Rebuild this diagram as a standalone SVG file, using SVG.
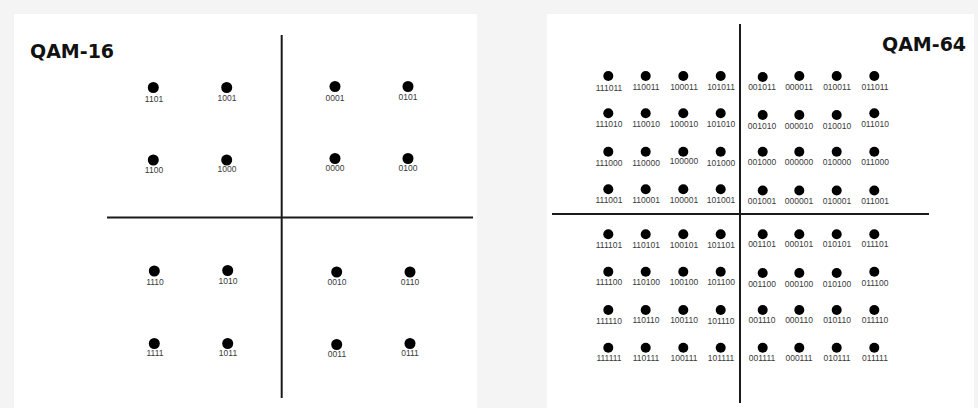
<svg xmlns="http://www.w3.org/2000/svg" width="978" height="408" viewBox="0 0 978 408">
<style>
.bg{fill:#f4f4f4}
.panel{fill:#ffffff}
.axis{stroke:#1a1a1a;stroke-width:2;fill:none}
.dot{fill:#000}
.lbl{font-family:"Liberation Sans",Arial,sans-serif;font-size:8.5px;fill:#3a3a3a;text-anchor:middle}
.title{font-family:"DejaVu Sans",Verdana,sans-serif;font-weight:bold;font-size:19px;fill:#111}
</style>
<rect class="bg" x="0" y="0" width="978" height="408"/>
<rect class="panel" x="14" y="14" width="463" height="394"/>
<rect class="panel" x="547" y="14" width="427" height="394"/>

<g id="qam16">
<text class="title" x="30" y="58">QAM-16</text>
<g id="axes16" class="axis">
<line x1="281.7" y1="35" x2="281.7" y2="398"/>
<line x1="107" y1="217.5" x2="473" y2="217.5"/>
</g>
<g id="n1101"><circle class="dot" cx="153.3" cy="87.5" r="5.5"/><text class="lbl" x="154" y="102">1101</text></g>
<g id="n1001"><circle class="dot" cx="226.7" cy="87.5" r="5.5"/><text class="lbl" x="227" y="101">1001</text></g>
<g id="n0001"><circle class="dot" cx="335" cy="86.5" r="5.5"/><text class="lbl" x="335" y="101">0001</text></g>
<g id="n0101"><circle class="dot" cx="408" cy="86.5" r="5.5"/><text class="lbl" x="408" y="100">0101</text></g>
<g id="n1100"><circle class="dot" cx="153.3" cy="160" r="5.5"/><text class="lbl" x="154" y="173">1100</text></g>
<g id="n1000"><circle class="dot" cx="226.7" cy="160" r="5.5"/><text class="lbl" x="227" y="172">1000</text></g>
<g id="n0000"><circle class="dot" cx="335" cy="158.5" r="5.5"/><text class="lbl" x="335" y="171">0000</text></g>
<g id="n0100"><circle class="dot" cx="408" cy="158.5" r="5.5"/><text class="lbl" x="408" y="171">0100</text></g>
<g id="n1110"><circle class="dot" cx="154.3" cy="271" r="5.5"/><text class="lbl" x="155" y="285">1110</text></g>
<g id="n1010"><circle class="dot" cx="227.7" cy="270.5" r="5.5"/><text class="lbl" x="228" y="284">1010</text></g>
<g id="n0010"><circle class="dot" cx="336.7" cy="272" r="5.5"/><text class="lbl" x="337" y="285">0010</text></g>
<g id="n0110"><circle class="dot" cx="410" cy="272" r="5.5"/><text class="lbl" x="410" y="285">0110</text></g>
<g id="n1111"><circle class="dot" cx="154.3" cy="343.5" r="5.5"/><text class="lbl" x="155" y="356">1111</text></g>
<g id="n1011"><circle class="dot" cx="227.7" cy="343.5" r="5.5"/><text class="lbl" x="228" y="356">1011</text></g>
<g id="n0011"><circle class="dot" cx="336.7" cy="344.5" r="5.5"/><text class="lbl" x="337" y="357">0011</text></g>
<g id="n0111"><circle class="dot" cx="410" cy="343.5" r="5.5"/><text class="lbl" x="410" y="356">0111</text></g>
</g>

<g id="qam64">
<text class="title" x="882" y="51">QAM-64</text>
<g id="axes64" class="axis">
<line x1="740" y1="24" x2="740" y2="403"/>
<line x1="552" y1="214" x2="929" y2="214"/>
</g>
<g id="row1">
<g id="m111011"><circle class="dot" cx="608.3" cy="76" r="5"/><text class="lbl" x="609" y="91">111011</text></g>
<g id="m110011"><circle class="dot" cx="645.7" cy="76" r="5"/><text class="lbl" x="646" y="90">110011</text></g>
<g id="m100011"><circle class="dot" cx="683.3" cy="76" r="5"/><text class="lbl" x="684" y="90">100011</text></g>
<g id="m101011"><circle class="dot" cx="720.7" cy="76" r="5"/><text class="lbl" x="721" y="90">101011</text></g>
<g id="m001011"><circle class="dot" cx="762.7" cy="77" r="5"/><text class="lbl" x="762" y="90">001011</text></g>
<g id="m000011"><circle class="dot" cx="799.3" cy="76" r="5"/><text class="lbl" x="799" y="90">000011</text></g>
<g id="m010011"><circle class="dot" cx="836.7" cy="76" r="5"/><text class="lbl" x="837" y="90">010011</text></g>
<g id="m011011"><circle class="dot" cx="874.3" cy="76" r="5"/><text class="lbl" x="875" y="90">011011</text></g>
</g>
<g id="row2">
<g id="m111010"><circle class="dot" cx="608.3" cy="113.3" r="5"/><text class="lbl" x="609" y="127">111010</text></g>
<g id="m110010"><circle class="dot" cx="645.7" cy="113.3" r="5"/><text class="lbl" x="646" y="127">110010</text></g>
<g id="m100010"><circle class="dot" cx="683.3" cy="113.3" r="5"/><text class="lbl" x="684" y="127">100010</text></g>
<g id="m101010"><circle class="dot" cx="720.7" cy="113.3" r="5"/><text class="lbl" x="721" y="127">101010</text></g>
<g id="m001010"><circle class="dot" cx="762.7" cy="115" r="5"/><text class="lbl" x="762" y="129">001010</text></g>
<g id="m000010"><circle class="dot" cx="799.3" cy="115" r="5"/><text class="lbl" x="799" y="129">000010</text></g>
<g id="m010010"><circle class="dot" cx="836.7" cy="115" r="5"/><text class="lbl" x="837" y="129">010010</text></g>
<g id="m011010"><circle class="dot" cx="874.3" cy="113.3" r="5"/><text class="lbl" x="875" y="127">011010</text></g>
</g>
<g id="row3">
<g id="m111000"><circle class="dot" cx="608.3" cy="151.7" r="5"/><text class="lbl" x="609" y="166">111000</text></g>
<g id="m110000"><circle class="dot" cx="645.7" cy="151.7" r="5"/><text class="lbl" x="646" y="166">110000</text></g>
<g id="m100000"><circle class="dot" cx="683.3" cy="151.7" r="5"/><text class="lbl" x="684" y="164">100000</text></g>
<g id="m101000"><circle class="dot" cx="720.7" cy="151.7" r="5"/><text class="lbl" x="721" y="166">101000</text></g>
<g id="m001000"><circle class="dot" cx="762.7" cy="151.7" r="5"/><text class="lbl" x="762" y="165">001000</text></g>
<g id="m000000"><circle class="dot" cx="799.3" cy="151.7" r="5"/><text class="lbl" x="799" y="165">000000</text></g>
<g id="m010000"><circle class="dot" cx="836.7" cy="151.7" r="5"/><text class="lbl" x="837" y="165">010000</text></g>
<g id="m011000"><circle class="dot" cx="874.3" cy="151.7" r="5"/><text class="lbl" x="875" y="165">011000</text></g>
</g>
<g id="row4">
<g id="m111001"><circle class="dot" cx="608.3" cy="189.3" r="5"/><text class="lbl" x="609" y="203">111001</text></g>
<g id="m110001"><circle class="dot" cx="645.7" cy="189.3" r="5"/><text class="lbl" x="646" y="203">110001</text></g>
<g id="m100001"><circle class="dot" cx="683.3" cy="189.3" r="5"/><text class="lbl" x="684" y="203">100001</text></g>
<g id="m101001"><circle class="dot" cx="720.7" cy="189.3" r="5"/><text class="lbl" x="721" y="203">101001</text></g>
<g id="m001001"><circle class="dot" cx="762.7" cy="190.5" r="5"/><text class="lbl" x="762" y="204">001001</text></g>
<g id="m000001"><circle class="dot" cx="799.3" cy="190.5" r="5"/><text class="lbl" x="799" y="204">000001</text></g>
<g id="m010001"><circle class="dot" cx="836.7" cy="190.5" r="5"/><text class="lbl" x="837" y="204">010001</text></g>
<g id="m011001"><circle class="dot" cx="874.3" cy="190.5" r="5"/><text class="lbl" x="875" y="204">011001</text></g>
</g>
<g id="row5">
<g id="m111101"><circle class="dot" cx="608.3" cy="234.3" r="5"/><text class="lbl" x="609" y="248">111101</text></g>
<g id="m110101"><circle class="dot" cx="645.7" cy="234.3" r="5"/><text class="lbl" x="646" y="248">110101</text></g>
<g id="m100101"><circle class="dot" cx="683.3" cy="234.3" r="5"/><text class="lbl" x="684" y="248">100101</text></g>
<g id="m101101"><circle class="dot" cx="720.7" cy="234.3" r="5"/><text class="lbl" x="721" y="248">101101</text></g>
<g id="m001101"><circle class="dot" cx="762.7" cy="234.3" r="5"/><text class="lbl" x="762" y="247">001101</text></g>
<g id="m000101"><circle class="dot" cx="799.3" cy="234.3" r="5"/><text class="lbl" x="799" y="247">000101</text></g>
<g id="m010101"><circle class="dot" cx="836.7" cy="234.3" r="5"/><text class="lbl" x="837" y="247">010101</text></g>
<g id="m011101"><circle class="dot" cx="874.3" cy="234.3" r="5"/><text class="lbl" x="875" y="247">011101</text></g>
</g>
<g id="row6">
<g id="m111100"><circle class="dot" cx="608.3" cy="271.7" r="5"/><text class="lbl" x="609" y="285">111100</text></g>
<g id="m110100"><circle class="dot" cx="645.7" cy="271.7" r="5"/><text class="lbl" x="646" y="285">110100</text></g>
<g id="m100100"><circle class="dot" cx="683.3" cy="271.7" r="5"/><text class="lbl" x="684" y="285">100100</text></g>
<g id="m101100"><circle class="dot" cx="720.7" cy="271.7" r="5"/><text class="lbl" x="721" y="285">101100</text></g>
<g id="m001100"><circle class="dot" cx="762.7" cy="273" r="5"/><text class="lbl" x="762" y="287">001100</text></g>
<g id="m000100"><circle class="dot" cx="799.3" cy="273" r="5"/><text class="lbl" x="799" y="287">000100</text></g>
<g id="m010100"><circle class="dot" cx="836.7" cy="273" r="5"/><text class="lbl" x="837" y="287">010100</text></g>
<g id="m011100"><circle class="dot" cx="874.3" cy="271.7" r="5"/><text class="lbl" x="875" y="286">011100</text></g>
</g>
<g id="row7">
<g id="m111110"><circle class="dot" cx="608.3" cy="310" r="5"/><text class="lbl" x="609" y="324">111110</text></g>
<g id="m110110"><circle class="dot" cx="645.7" cy="310" r="5"/><text class="lbl" x="646" y="323">110110</text></g>
<g id="m100110"><circle class="dot" cx="683.3" cy="310" r="5"/><text class="lbl" x="684" y="323">100110</text></g>
<g id="m101110"><circle class="dot" cx="720.7" cy="310" r="5"/><text class="lbl" x="721" y="324">101110</text></g>
<g id="m001110"><circle class="dot" cx="762.7" cy="310" r="5"/><text class="lbl" x="762" y="323">001110</text></g>
<g id="m000110"><circle class="dot" cx="799.3" cy="310" r="5"/><text class="lbl" x="799" y="323">000110</text></g>
<g id="m010110"><circle class="dot" cx="836.7" cy="310" r="5"/><text class="lbl" x="837" y="323">010110</text></g>
<g id="m011110"><circle class="dot" cx="874.3" cy="310" r="5"/><text class="lbl" x="875" y="323">011110</text></g>
</g>
<g id="row8">
<g id="m111111"><circle class="dot" cx="608.3" cy="347.7" r="5"/><text class="lbl" x="609" y="361">111111</text></g>
<g id="m110111"><circle class="dot" cx="645.7" cy="347.7" r="5"/><text class="lbl" x="646" y="361">110111</text></g>
<g id="m100111"><circle class="dot" cx="683.3" cy="347.7" r="5"/><text class="lbl" x="684" y="361">100111</text></g>
<g id="m101111"><circle class="dot" cx="720.7" cy="347.7" r="5"/><text class="lbl" x="721" y="361">101111</text></g>
<g id="m001111"><circle class="dot" cx="762.7" cy="347.7" r="5"/><text class="lbl" x="762" y="361">001111</text></g>
<g id="m000111"><circle class="dot" cx="799.3" cy="347.7" r="5"/><text class="lbl" x="799" y="361">000111</text></g>
<g id="m010111"><circle class="dot" cx="836.7" cy="347.7" r="5"/><text class="lbl" x="837" y="361">010111</text></g>
<g id="m011111"><circle class="dot" cx="874.3" cy="347.7" r="5"/><text class="lbl" x="875" y="361">011111</text></g>
</g>
</g>
</svg>
